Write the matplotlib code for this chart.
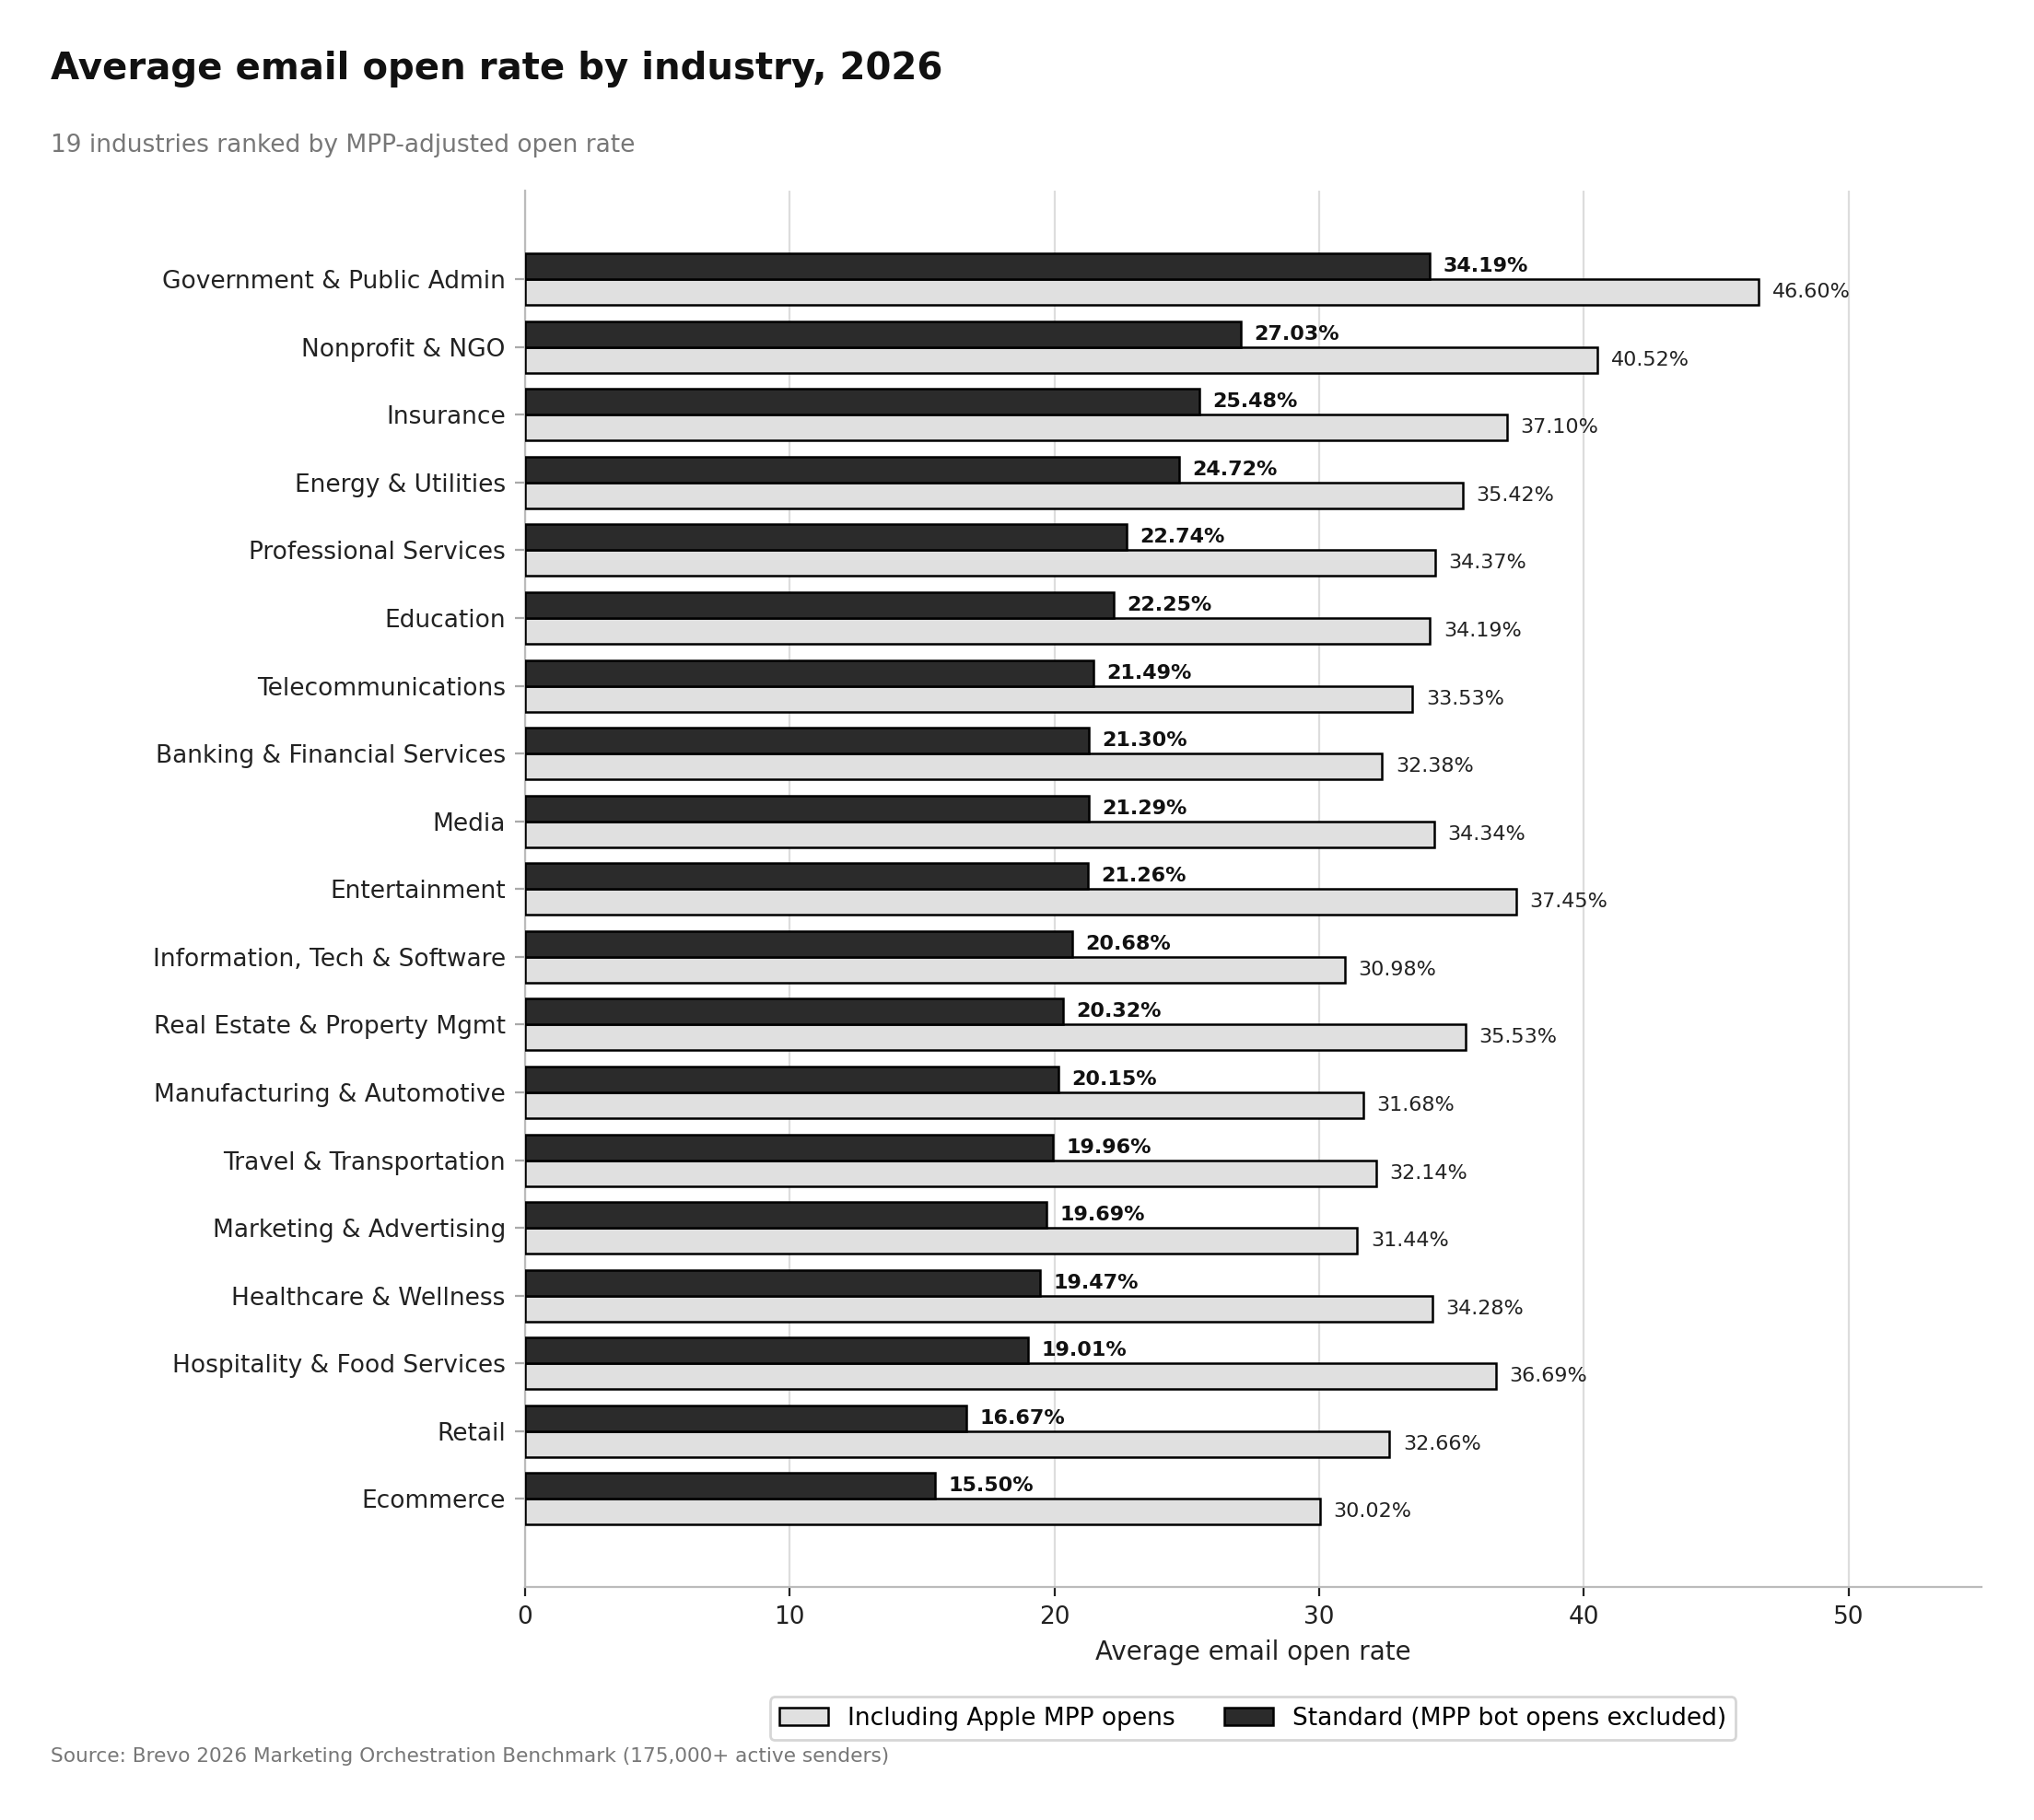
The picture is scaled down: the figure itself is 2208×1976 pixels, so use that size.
import matplotlib
matplotlib.use("Agg")
import matplotlib.pyplot as plt
import numpy as np

industries = ["Government & Public Admin","Nonprofit & NGO","Insurance","Energy & Utilities",
"Professional Services","Education","Telecommunications","Banking & Financial Services","Media",
"Entertainment","Information, Tech & Software","Real Estate & Property Mgmt","Manufacturing & Automotive",
"Travel & Transportation","Marketing & Advertising","Healthcare & Wellness","Hospitality & Food Services",
"Retail","Ecommerce"]
standard = [34.19,27.03,25.48,24.72,22.74,22.25,21.49,21.30,21.29,21.26,20.68,20.32,20.15,19.96,19.69,19.47,19.01,16.67,15.50]
mpp = [46.60,40.52,37.10,35.42,34.37,34.19,33.53,32.38,34.34,37.45,30.98,35.53,31.68,32.14,31.44,34.28,36.69,32.66,30.02]

fig = plt.figure(figsize=(11.04, 9.88), dpi=200)
ax = fig.add_axes([0.258, 0.128, 0.716, 0.767])
y = np.arange(len(industries))
h = 0.38
ax.barh(y + h/2, mpp, height=h, color="#e0e0e0", edgecolor="black", linewidth=0.9,
        label="Including Apple MPP opens", zorder=3)
ax.barh(y - h/2, standard, height=h, color="#2b2b2b", edgecolor="black", linewidth=0.9,
        label="Standard (MPP bot opens excluded)", zorder=3)
for yi, v in zip(y, mpp):
    ax.text(v + 0.5, yi + h/2, f"{v:.2f}%", va="center", ha="left", fontsize=8, color="#222222")
for yi, v in zip(y, standard):
    ax.text(v + 0.5, yi - h/2, f"{v:.2f}%", va="center", ha="left", fontsize=8, fontweight="bold", color="#111111")
ax.set_yticks(y)
ax.set_yticklabels(industries, fontsize=9.5, color="#222222")
ax.set_ylim(len(industries) - 1 + 1.3, -1.3)
ax.set_xlim(0, 55)
ax.set_xticks([0,10,20,30,40,50])
ax.tick_params(axis="x", labelsize=9.5, colors="#222222")
ax.tick_params(axis="y", length=4, color="#aaaaaa")
ax.set_xlabel("Average email open rate", fontsize=10, color="#222222")
ax.grid(axis="x", color="#dddddd", linewidth=0.8, zorder=0)
for s in ["top","right"]:
    ax.spines[s].set_visible(False)
for s in ["left","bottom"]:
    ax.spines[s].set_color("#bbbbbb")
ax.legend(loc="upper center", bbox_to_anchor=(0.5, -0.07), ncol=2, fontsize=9.5, frameon=True,
          edgecolor="#cccccc")
fig.text(0.025, 0.962, "Average email open rate by industry, 2026", fontsize=14.5, fontweight="bold",
         color="#111111", va="center")
fig.text(0.025, 0.92, "19 industries ranked by MPP-adjusted open rate", fontsize=9.5, color="#777777", va="center")
fig.text(0.025, 0.035, "Source: Brevo 2026 Marketing Orchestration Benchmark (175,000+ active senders)",
         fontsize=7.8, color="#777777", va="center")
fig.savefig("out.png", dpi=200)
